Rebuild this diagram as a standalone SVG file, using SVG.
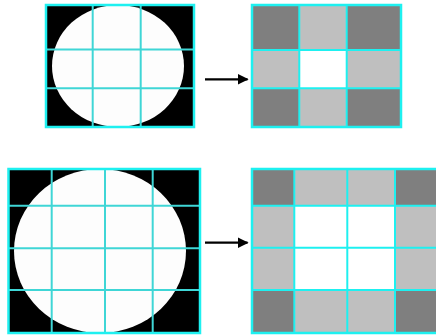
<svg xmlns="http://www.w3.org/2000/svg" width="436" height="335" viewBox="0 0 436 335">
<defs>
<style>
.border{fill:none;stroke:#1ef0f0;stroke-width:2.5}
.inner{stroke:#3fd6d6;stroke-width:2;fill:none}
.innerR{stroke:#1ef0f0;stroke-width:2;fill:none}
.dk{fill:#7f7f7f}
.lt{fill:#bfbfbf}
.wh{fill:#ffffff}
.conn{stroke:#000;stroke-width:2.2;fill:none}
</style>
<marker id="ah" viewBox="0 0 10 10" refX="9" refY="5" markerWidth="5" markerHeight="5" orient="auto" markerUnits="strokeWidth">
<path d="M0,0 L10,5 L0,10 z" fill="#000"/>
</marker>
</defs>
<rect width="436" height="335" fill="#fff"/>

<g id="top-left">
<rect x="46" y="5" width="148" height="122" fill="#000"/>
<ellipse cx="118" cy="66" rx="66" ry="61" fill="#fdfdfd"/>
<line class="inner" x1="92.7" y1="5" x2="92.7" y2="127"/>
<line class="inner" x1="140.7" y1="5" x2="140.7" y2="127"/>
<line class="inner" x1="46" y1="49.5" x2="194" y2="49.5"/>
<line class="inner" x1="46" y1="88.3" x2="194" y2="88.3"/>
<rect class="border" x="46" y="5" width="148" height="122"/>
</g>

<g id="top-right">
<rect class="dk" x="252" y="5" width="47.3" height="45"/>
<rect class="lt" x="299.3" y="5" width="47.4" height="45"/>
<rect class="dk" x="346.7" y="5" width="54.3" height="45"/>
<rect class="lt" x="252" y="50" width="47.3" height="38.3"/>
<rect class="wh" x="299.3" y="50" width="47.4" height="38.3"/>
<rect class="lt" x="346.7" y="50" width="54.3" height="38.3"/>
<rect class="dk" x="252" y="88.3" width="47.3" height="38.7"/>
<rect class="lt" x="299.3" y="88.3" width="47.4" height="38.7"/>
<rect class="dk" x="346.7" y="88.3" width="54.3" height="38.7"/>
<line class="innerR" x1="299.3" y1="5" x2="299.3" y2="127"/>
<line class="innerR" x1="346.7" y1="5" x2="346.7" y2="127"/>
<line class="innerR" x1="252" y1="50" x2="401" y2="50"/>
<line class="innerR" x1="252" y1="88.3" x2="401" y2="88.3"/>
<rect class="border" x="252" y="5" width="149" height="122"/>
</g>

<g id="bottom-left">
<rect x="8.5" y="169" width="191.5" height="164" fill="#000"/>
<ellipse cx="100" cy="251" rx="86" ry="82" fill="#fdfdfd"/>
<line class="inner" x1="51.7" y1="169" x2="51.7" y2="333"/>
<line class="inner" x1="105" y1="169" x2="105" y2="333"/>
<line class="inner" x1="152.7" y1="169" x2="152.7" y2="333"/>
<line class="inner" x1="8.5" y1="205.7" x2="200" y2="205.7"/>
<line class="inner" x1="8.5" y1="248.3" x2="200" y2="248.3"/>
<line class="inner" x1="8.5" y1="290" x2="200" y2="290"/>
<rect class="border" x="8.5" y="169" width="191.5" height="164"/>
</g>

<g id="bottom-right">
<rect class="dk" x="252" y="169" width="42.3" height="36.7"/>
<rect class="lt" x="294.3" y="169" width="53" height="36.7"/>
<rect class="lt" x="347.3" y="169" width="47.7" height="36.7"/>
<rect class="dk" x="395" y="169" width="50" height="36.7"/>
<rect class="lt" x="252" y="205.7" width="42.3" height="42"/>
<rect class="wh" x="294.3" y="205.7" width="53" height="42"/>
<rect class="wh" x="347.3" y="205.7" width="47.7" height="42"/>
<rect class="lt" x="395" y="205.7" width="50" height="42"/>
<rect class="lt" x="252" y="247.7" width="42.3" height="42.3"/>
<rect class="wh" x="294.3" y="247.7" width="53" height="42.3"/>
<rect class="wh" x="347.3" y="247.7" width="47.7" height="42.3"/>
<rect class="lt" x="395" y="247.7" width="50" height="42.3"/>
<rect class="dk" x="252" y="290" width="42.3" height="43"/>
<rect class="lt" x="294.3" y="290" width="53" height="43"/>
<rect class="lt" x="347.3" y="290" width="47.7" height="43"/>
<rect class="dk" x="395" y="290" width="50" height="43"/>
<line class="innerR" x1="294.3" y1="169" x2="294.3" y2="333"/>
<line class="innerR" x1="347.3" y1="169" x2="347.3" y2="333"/>
<line class="innerR" x1="395" y1="169" x2="395" y2="333"/>
<line class="innerR" x1="252" y1="205.7" x2="445" y2="205.7"/>
<line class="innerR" x1="252" y1="247.7" x2="445" y2="247.7"/>
<line class="innerR" x1="252" y1="290" x2="445" y2="290"/>
<rect class="border" x="252" y="169" width="193" height="164"/>
</g>

<g id="connectors">
<line class="conn" x1="205" y1="79.3" x2="247.5" y2="79.3" marker-end="url(#ah)"/>
<line class="conn" x1="205" y1="242.7" x2="247.5" y2="242.7" marker-end="url(#ah)"/>
</g>
</svg>
